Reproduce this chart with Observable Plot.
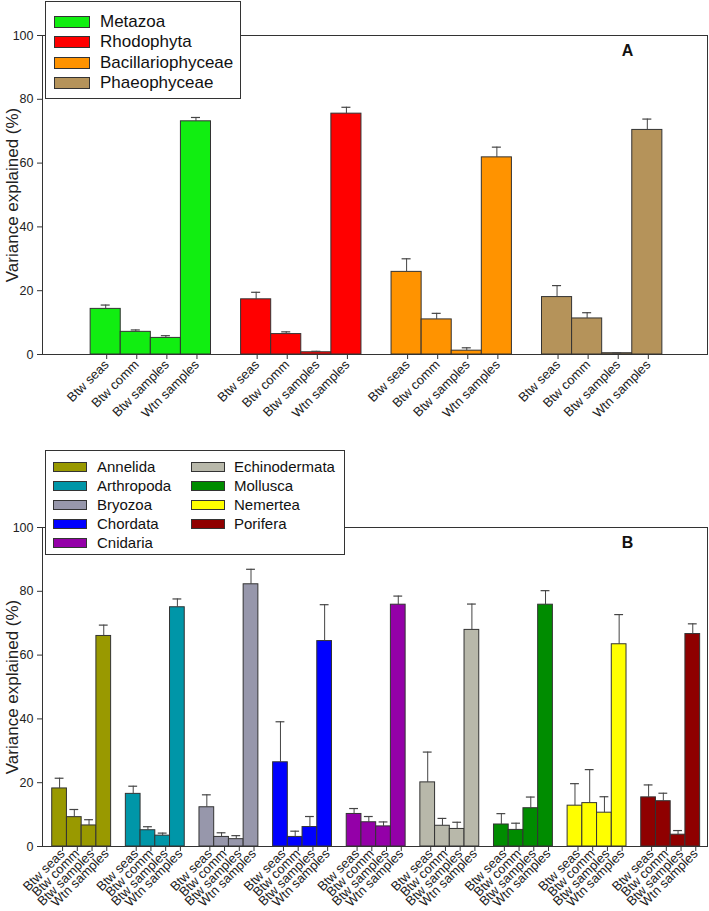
<!DOCTYPE html>
<html><head><meta charset="utf-8">
<script src="https://cdn.jsdelivr.net/npm/d3@7"></script>
<script src="https://cdn.jsdelivr.net/npm/@observablehq/plot@0.6"></script>
<style>
body{margin:0;background:#fff;font-family:"Liberation Sans",Arial,sans-serif;}
#wrap{position:relative;width:709px;height:911px;overflow:hidden;}
#wrap svg{display:block;}
.legend{position:absolute;background:#fff;border:1.5px solid #333;box-sizing:border-box;}
.item{position:absolute;display:flex;align-items:center;color:#111;white-space:nowrap;}
.sw{border:1px solid #333;box-sizing:border-box;flex:none;}
</style></head><body><div id="wrap"></div>
<script>
// ---- data ----
const categories = ["Btw seas", "Btw comm", "Btw samples", "Wtn samples"];

const groupsA = ["Metazoa", "Rhodophyta", "Bacillariophyceae", "Phaeophyceae"];
const colorsA = ["#11ee11", "#ff0000", "#ff9300", "#b5935a"];
const valuesA = [
  [14.3, 7.1, 5.2, 73.1],
  [17.3, 6.4, 0.7, 75.5],
  [25.9, 11.0, 1.2, 61.8],
  [18.0, 11.3, 0.4, 70.4]
];
const errorsA = [
  [1.2, 0.6, 0.7, 1.2],
  [2.2, 0.7, 0.3, 2.0],
  [4.1, 1.9, 0.9, 3.2],
  [3.6, 1.8, 0.1, 3.4]
];

const groupsB = ["Annelida", "Arthropoda", "Bryozoa", "Chordata", "Cnidaria",
                 "Echinodermata", "Mollusca", "Nemertea", "Porifera"];
const colorsB = ["#999900", "#0096a8", "#9797ab", "#0000ff", "#9400a8",
                 "#b8b8aa", "#008c00", "#ffff00", "#8f0000"];
const valuesB = [
  [18.2, 9.2, 6.6, 66.0],
  [16.5, 5.1, 3.4, 75.0],
  [12.3, 3.0, 2.3, 82.2],
  [26.4, 3.0, 6.1, 64.4],
  [10.2, 7.6, 6.3, 75.8],
  [20.1, 6.5, 5.5, 67.9],
  [6.9, 5.2, 12.0, 75.8],
  [12.8, 13.6, 10.6, 63.4],
  [15.4, 14.2, 3.7, 66.6]
];
const errorsB = [
  [3.2, 2.4, 1.8, 3.4],
  [2.4, 1.1, 0.8, 2.6],
  [3.9, 1.3, 1.1, 4.7],
  [12.7, 1.8, 3.3, 11.4],
  [1.7, 1.8, 1.4, 2.7],
  [9.5, 2.3, 2.1, 8.1],
  [3.4, 2.1, 3.5, 4.4],
  [6.9, 10.5, 5.0, 9.3],
  [3.9, 2.5, 1.3, 3.2]
];
const yTicks = [0, 20, 40, 60, 80, 100];
const yTitle = "Variance explained (%)";

// ---- helpers ----
const FONT = '"Liberation Sans", Arial, sans-serif';
function rows(groups, values, errors) {
  return groups.flatMap((g, i) => categories.map((c, j) => ({
    group: g, cat: c, slot: i * 5 + j, value: values[i][j], err: errors[i][j]
  })));
}

function chart({groups, colors, values, errors, height, marginTop, marginBottom, domain, capHalf, letter, labelPad, labelDx}) {
  const data = rows(groups, values, errors);
  const ticks = data.map(d => d.slot + 0.5);
  return Plot.plot({
    width: 709, height, marginLeft: 42, marginRight: 2, marginTop, marginBottom,
    style: {fontFamily: FONT, fontSize: "13px", color: "#222", background: "white", overflow: "visible"},
    x: {type: "linear", domain},
    y: {domain: [0, 100]},
    color: {domain: groups, range: colors},
    marks: [
      Plot.rectY(data, {x1: d => d.slot, x2: d => d.slot + 1, y: "value", fill: "group", stroke: "#333", strokeWidth: 1}),
      Plot.ruleX(data, {x: d => d.slot + 0.5, y1: "value", y2: d => d.value + d.err, stroke: "#444", strokeWidth: 1}),
      Plot.ruleY(data, {x1: d => d.slot + 0.5 - capHalf, x2: d => d.slot + 0.5 + capHalf, y: d => d.value + d.err, stroke: "#444", strokeWidth: 1.2}),
      Plot.frame({stroke: "#333", strokeWidth: 1}),
      Plot.axisY({ticks: yTicks, tickSize: 5, tickPadding: 4, label: null, fontSize: 12.5, stroke: "#333"}),
      Plot.axisX({ticks, tickFormat: d => categories[Math.round(d - 0.5) % 5], tickRotate: -45, tickSize: 5, tickPadding: labelPad, dx: labelDx, label: null, fontSize: 13, stroke: "#333"}),
      Plot.text([yTitle], {frameAnchor: "left", rotate: -90, dx: -30, fontSize: 17, textAnchor: "middle", lineAnchor: "middle", fill: "#222"}),
      Plot.text([letter], {frameAnchor: "top-right", dx: -80, dy: 15, fontSize: 16, fontWeight: "bold", textAnchor: "middle", lineAnchor: "middle", fill: "#111"})
    ]
  });
}

const wrap = document.getElementById("wrap");
wrap.append(chart({groups: groupsA, colors: colorsA, values: valuesA, errors: errorsA,
  height: 440, marginTop: 35, marginBottom: 86, domain: [-1.6, 20.5], capHalf: 0.15, letter: "A", labelPad: 3, labelDx: 1}));
wrap.append(chart({groups: groupsB, colors: colorsB, values: valuesB, errors: errorsB,
  height: 471, marginTop: 87, marginBottom: 65, domain: [-0.66, 44.5], capHalf: 0.3, letter: "B", labelPad: 0, labelDx: 3}));

// ---- legends (HTML overlays) ----
function legend({left, top, width, height, items, colors, fontSize, swW, swH, rowTop, rowStep, perCol, colX, textX}) {
  const box = document.createElement("div");
  box.className = "legend";
  Object.assign(box.style, {left: left + "px", top: top + "px", width: width + "px", height: height + "px"});
  items.forEach((name, i) => {
    const col = Math.floor(i / perCol), row = i % perCol;
    const it = document.createElement("div");
    it.className = "item";
    const cy = rowTop + row * rowStep;
    Object.assign(it.style, {left: (colX[col] - left) + "px", top: (cy - top - 12) + "px", height: "24px", fontSize: fontSize + "px"});
    const sw = document.createElement("div");
    sw.className = "sw";
    Object.assign(sw.style, {width: swW + "px", height: swH + "px", background: colors[i], marginRight: (textX[col] - colX[col] - swW) + "px"});
    const tx = document.createElement("span");
    tx.textContent = name;
    it.append(sw, tx);
    box.append(it);
  });
  wrap.append(box);
}
legend({left: 45, top: 1, width: 196, height: 98, items: groupsA, colors: colorsA, fontSize: 17,
  swW: 36, swH: 12, rowTop: 21, rowStep: 20.4, perCol: 4, colX: [53], textX: [99]});
legend({left: 45, top: 450, width: 300, height: 105, items: groupsB, colors: colorsB, fontSize: 15,
  swW: 34, swH: 10, rowTop: 465.5, rowStep: 19, perCol: 5, colX: [52, 190], textX: [96, 233]});
</script></body></html>
